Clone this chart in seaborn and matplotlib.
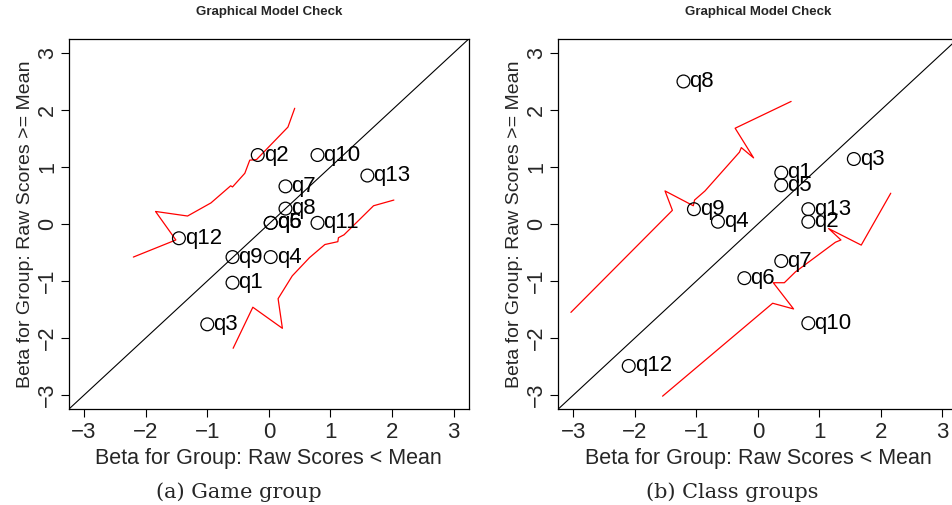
import matplotlib
matplotlib.use("Agg")
import matplotlib.pyplot as plt
import seaborn as sns
import pandas as pd

# ---- data: panel (a) Game group ----
game_items = ["q1", "q2", "q3", "q4", "q5", "q6", "q7", "q8", "q9", "q10", "q11", "q12", "q13"]
game_below = [-0.59, -0.18, -1.00, 0.03, 0.03, 0.03, 0.27, 0.27, -0.59, 0.79, 0.79, -1.46, 1.60]
game_above = [-1.03, 1.21, -1.76, -0.58, 0.02, 0.02, 0.66, 0.27, -0.58, 1.21, 0.02, -0.25, 0.85]
game_upper_x = [-2.20, -1.51, -1.84, -1.32, -0.94, -0.62, -0.59, -0.39, -0.31, -0.20, 0.31, 0.42]
game_upper_y = [-0.58, -0.28, 0.22, 0.14, 0.37, 0.67, 0.65, 0.89, 1.12, 1.13, 1.70, 2.03]
game_lower_x = [-0.58, -0.26, 0.22, 0.15, 0.38, 0.66, 0.91, 1.12, 1.13, 1.22, 1.70, 2.03]
game_lower_y = [-2.18, -1.46, -1.83, -1.31, -0.91, -0.59, -0.36, -0.31, -0.24, -0.19, 0.32, 0.42]

# ---- data: panel (b) Class groups ----
class_items = ["q1", "q2", "q3", "q4", "q5", "q6", "q7", "q8", "q9", "q10", "q12", "q13"]
class_below = [0.38, 0.82, 1.56, -0.65, 0.38, -0.22, 0.38, -1.21, -1.04, 0.82, -2.10, 0.82]
class_above = [0.90, 0.04, 1.14, 0.04, 0.68, -0.95, -0.65, 2.50, 0.26, -1.74, -2.49, 0.26]
class_upper_x = [-3.04, -1.39, -1.51, -1.05, -1.03, -0.86, -0.30, -0.27, -0.07, -0.37, 0.54]
class_upper_y = [-1.55, 0.24, 0.58, 0.32, 0.42, 0.58, 1.26, 1.34, 1.16, 1.68, 2.15]
class_lower_x = [-1.55, 0.24, 0.58, 0.25, 0.43, 0.61, 1.26, 1.35, 1.15, 1.68, 2.16]
class_lower_y = [-3.02, -1.39, -1.49, -1.03, -1.03, -0.84, -0.32, -0.28, -0.08, -0.37, 0.54]

ticks = [-3, -2, -1, 0, 1, 2, 3]
tick_labels = ["\u22123", "\u22122", "\u22121", "0", "1", "2", "3"]
title = "Graphical Model Check"
xlabel = "Beta for Group: Raw Scores < Mean"
ylabel = "Beta for Group: Raw Scores >= Mean"
captions = ["(a) Game group", "(b) Class groups"]

sns.set_theme(style="ticks")
plt.rcParams["font.family"] = ["Liberation Sans", "DejaVu Sans"]

fig = plt.figure(figsize=(9.53, 5.05), dpi=100)
W, H = 953, 505
lim = 3.245


def panel(rect, items, xs, ys, ux, uy, lx, ly, caption, cap_x):
    ax = fig.add_axes(rect)
    pts = pd.DataFrame({"x": xs, "y": ys, "label": items})
    ax.plot([-lim, lim], [-lim, lim], color="black", lw=0.8, zorder=1)
    sns.lineplot(x=ux, y=uy, sort=False, estimator=None, color="red", lw=0.9, ax=ax, zorder=2)
    sns.lineplot(x=lx, y=ly, sort=False, estimator=None, color="red", lw=0.9, ax=ax, zorder=2)
    sns.scatterplot(data=pts, x="x", y="y", marker="o", s=85, facecolor="none",
                    edgecolor="black", linewidth=0.9, ax=ax, zorder=3)
    for _, r in pts.iterrows():
        ax.annotate(r["label"], (r["x"], r["y"]), xytext=(4.3, 0), textcoords="offset points",
                    ha="left", va="center", fontsize=16, color="black", zorder=4)
    ax.set_xlim(-lim, lim)
    ax.set_ylim(-lim, lim)
    ax.set_xticks(ticks)
    ax.set_xticklabels(tick_labels, fontsize=16)
    ax.set_yticks(ticks)
    ax.set_yticklabels(tick_labels, fontsize=15.5, rotation=90, va="center")
    ax.tick_params(direction="out", length=6, width=0.8, color="black")
    ax.tick_params(axis="x", pad=3)
    ax.tick_params(axis="y", pad=2)
    for s in ax.spines.values():
        s.set_visible(True)
        s.set_color("black")
        s.set_linewidth(0.9)
    ax.set_xlabel(xlabel, fontsize=15.5, labelpad=4)
    ax.set_ylabel(ylabel, fontsize=14, labelpad=2)
    ax.set_title(title, fontsize=9.5, fontweight="bold", pad=17)
    fig.text(cap_x / W, 1 - 492 / H, caption, ha="center", va="center",
             fontsize=15, family=["DejaVu Serif"])
    return ax


b = 1 - 409 / H
h = (409 - 39) / H
panel([69 / W, b, (468.7 - 69) / W, h], game_items, game_below, game_above,
      game_upper_x, game_upper_y, game_lower_x, game_lower_y, captions[0], 238.5)
panel([558.3 / W, b, (957.5 - 558.3) / W, h], class_items, class_below, class_above,
      class_upper_x, class_upper_y, class_lower_x, class_lower_y, captions[1], 732)

fig.savefig("out.png", dpi=100)
